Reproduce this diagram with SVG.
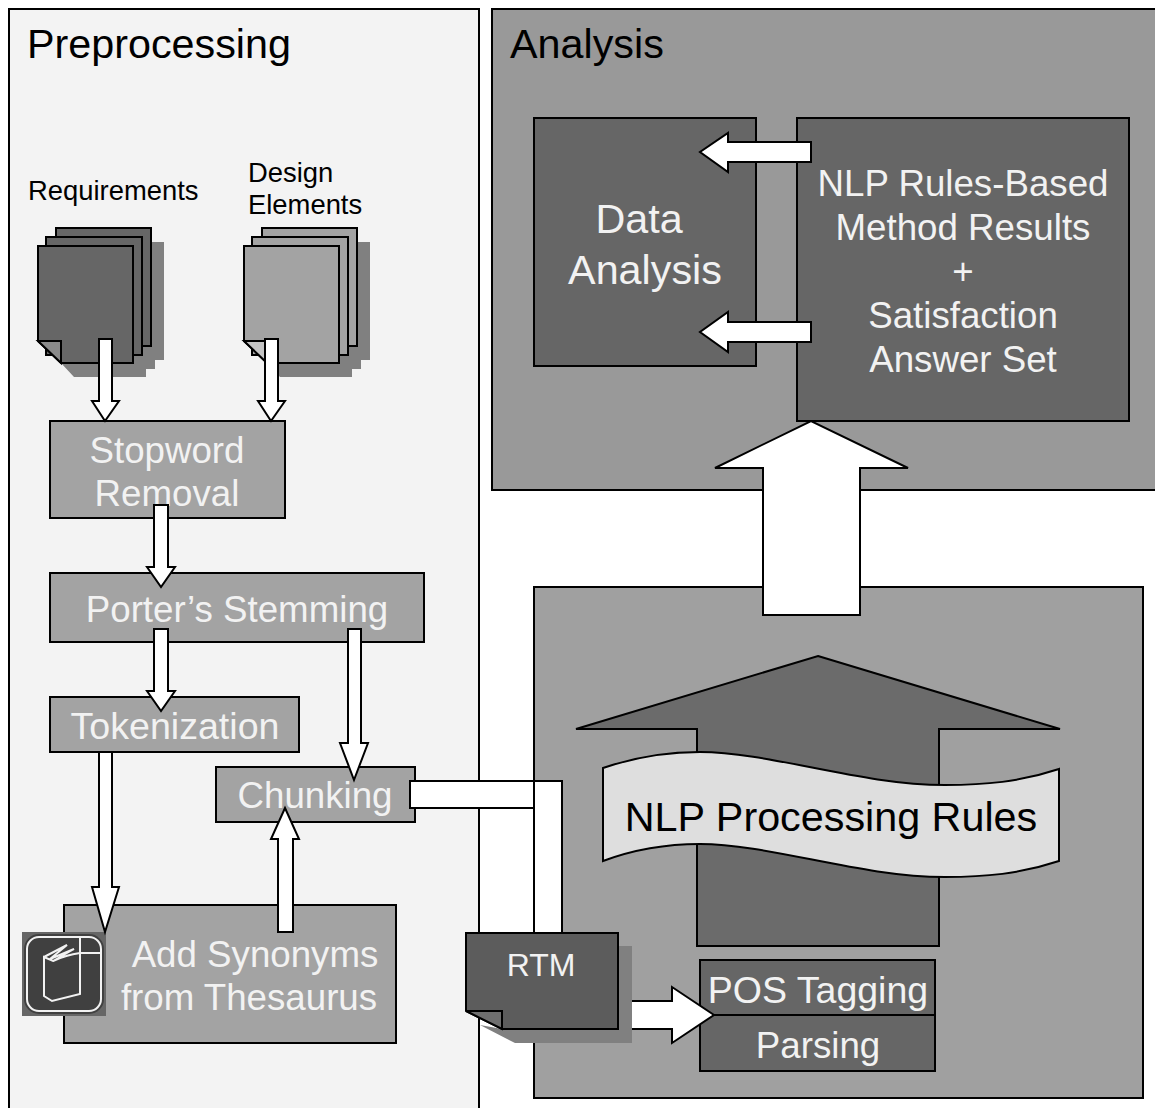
<svg xmlns="http://www.w3.org/2000/svg" width="1155" height="1108" viewBox="0 0 1155 1108">
<style>
text{font-family:"Liberation Sans",Arial,sans-serif}
.s{stroke:#000;stroke-width:2}
.w{fill:#fff;stroke:#000;stroke-width:2}
.t{fill:#f2f2f2;text-anchor:middle;font-size:36.7px}
.b{font-size:41.3px}
.k{fill:#000}
.l{font-size:27.4px}
.sh{fill:#808080}
.d{fill:#666;stroke:#000;stroke-width:2}
.m{fill:#a3a3a3;stroke:#000;stroke-width:2}
</style>
<rect width="1155" height="1108" fill="#fff"/>
<g id="preprocessing"><rect x="9" y="9" width="470" height="1110" fill="#f3f3f3" class="s"/><text x="27" y="58" class="k b">Preprocessing</text></g>
<g id="analysis"><rect x="492" y="9" width="680" height="481" fill="#999" class="s"/><text x="510" y="58" class="k b">Analysis</text></g>
<g id="nlp-panel"><rect x="534" y="587" width="609" height="511" fill="#a0a0a0" class="s"/></g>
<g id="requirements">
<path class="sh" d="M61,363L74,377H146V369H155V360H164V242H151V346H61Z"/>
<rect class="d" x="56" y="228" width="95" height="118"/><rect class="d" x="46" y="237" width="96" height="118"/>
<path class="d" d="M38,246H133V363H61L38,341Z"/><path d="M38,341H61V363Z" fill="#8a8a8a" class="s"/>
<text x="28" y="200" class="k l">Requirements</text></g>
<g id="design-elements">
<path class="sh" d="M267,363L280,377H352V369H361V360H370V242H357V346H267Z"/>
<rect class="m" x="262" y="228" width="95" height="118"/><rect class="m" x="252" y="237" width="96" height="118"/>
<path class="m" d="M244,246H339V363H267L244,341Z"/><path d="M244,341H267V363Z" fill="#c4c4c4" class="s"/>
<text x="248" y="182" class="k l">Design</text><text x="248" y="214" class="k l">Elements</text></g>
<g id="stopword"><rect class="m" x="50" y="421" width="235" height="97"/><text class="t" x="167" y="463">Stopword</text><text class="t" x="167" y="506">Removal</text></g>
<g id="porter"><rect class="m" x="50" y="573" width="374" height="69"/><text class="t" x="237" y="622">Porter’s Stemming</text></g>
<g id="tokenization"><rect class="m" x="50" y="697" width="249" height="55"/><text class="t" x="175" y="739" style="font-size:37.6px">Tokenization</text></g>
<g id="chunking"><rect class="m" x="216" y="767" width="199" height="55"/><text class="t" x="315" y="808">Chunking</text></g>
<g id="synonyms"><rect class="m" x="64" y="905" width="332" height="138"/><text class="t" x="255" y="967">Add Synonyms</text><text class="t" x="249" y="1010">from Thesaurus</text></g>
<g id="thesaurus-icon"><rect x="22" y="932" width="84" height="84" fill="#666"/><rect x="24" y="934" width="80" height="80" rx="15" fill="#404040"/><rect x="27" y="937" width="74" height="74" rx="12" fill="none" stroke="#f2f2f2" stroke-width="2"/>
<path d="M80,937V994L52,1001L44,996V957L53,961Q66,955 80,953H101M44,957L67,945L50,959L74,949L53,961" fill="none" stroke="#f2f2f2" stroke-width="2"/></g>
<g id="data-analysis"><rect class="d" x="534" y="118" width="222" height="248"/><text class="t b" x="639" y="233">Data</text><text class="t b" x="645" y="284">Analysis</text></g>
<g id="results"><rect class="d" x="797" y="118" width="332" height="303"/><text class="t" x="963" y="196">NLP Rules-Based</text><text class="t" x="963" y="240">Method Results</text><text class="t" x="963" y="284">+</text><text class="t" x="963" y="328">Satisfaction</text><text class="t" x="963" y="372">Answer Set</text></g>
<g id="rules-arrow"><path d="M818,656L1060,729H939V946H697V729H576Z" fill="#6b6b6b" class="s"/></g>
<g id="rules-banner"><path d="M603,768C635,757 670,752 700,752C770,752 860,785 945,785C985,785 1020,782 1059,769V861C1020,874 985,877 945,877C860,877 770,844 700,844C670,844 635,849 603,861Z" fill="#dedede" class="s"/><text x="831" y="831" text-anchor="middle" class="k b">NLP Processing Rules</text></g>
<g id="pos"><rect class="d" x="700" y="960" width="235" height="55"/><text class="t" x="818" y="1003" style="font-size:37.5px">POS Tagging</text></g>
<g id="parsing"><rect class="d" x="700" y="1015" width="235" height="56"/><text class="t" x="818" y="1058">Parsing</text></g>
<g id="connectors">
<path class="w" d="M99,339H112V401H119L105,421L92,401H99Z"/>
<path class="w" d="M265,339H278V401H285L271,421L258,401H265Z"/>
<path class="w" d="M154,505H168V567H175L161,587L147,567H154Z"/>
<path class="w" d="M154,629H168V691H175L161,711L147,691H154Z"/>
<path class="w" d="M99,752H112V887H119L105,932L92,887H99Z"/>
<path class="w" d="M348,629H361V743H368L354,780L340,743H348Z"/>
<path class="w" d="M278,932V839H271L285,808L299,839H293V932Z"/>
<rect class="w" x="534" y="781" width="28" height="160"/>
<rect class="w" x="410" y="781" width="124" height="27"/>
<path class="w" d="M811,142H728V133L700,152L728,172V162H811Z"/>
<path class="w" d="M811,322H728V312L700,332L728,352V342H811Z"/>
<path class="w" d="M763,615V468H715L811,421L908,468H860V615Z"/>
<path class="w" d="M625,1001H672V987L714,1015L672,1043V1029H625Z"/>
</g>
<g id="rtm"><path class="sh" d="M480,1025L515,1043H632V946H618V1029H502Z"/><path class="d" d="M466,933H618V1029H502L466,1011Z" style="fill:#5c5c5c"/><path d="M466,1011H502V1029Z" fill="#6f6f6f" class="s"/><text class="t" x="541" y="976" style="font-size:32px">RTM</text></g>
</svg>
